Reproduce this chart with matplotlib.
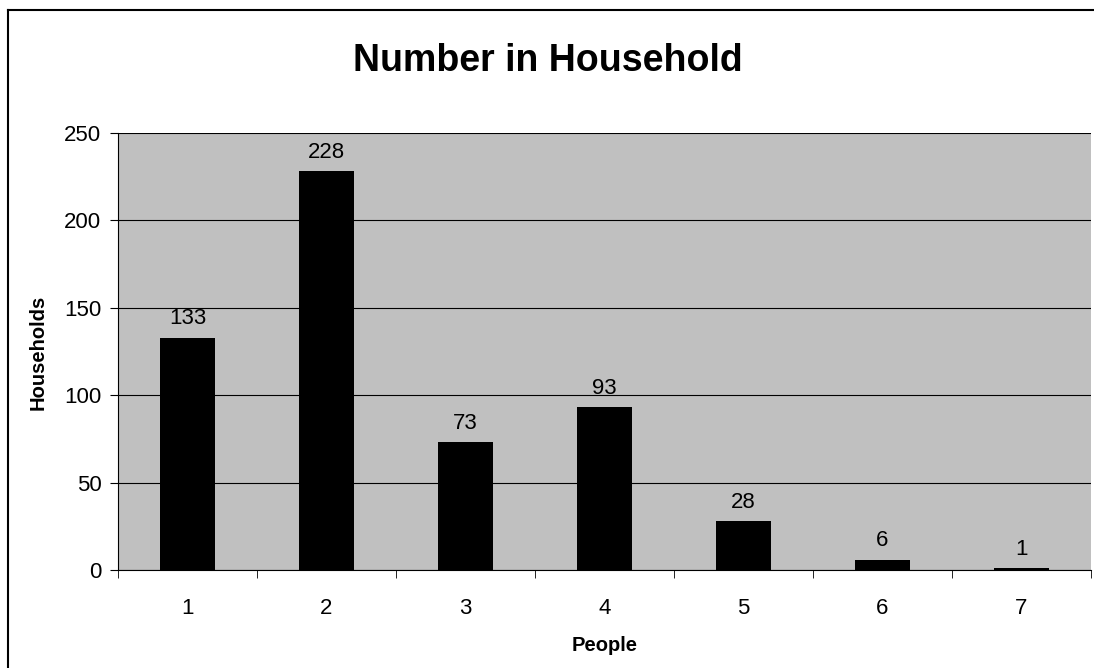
import numpy as np
import matplotlib.pyplot as plt
from matplotlib.lines import Line2D

plt.rcParams['font.family'] = ['Liberation Sans', 'DejaVu Sans']

people = ['1', '2', '3', '4', '5', '6', '7']
households = [133, 228, 73, 93, 28, 6, 1]

W, H = 1094, 668
fig = plt.figure(figsize=(W / 100, H / 100), dpi=100)
ax = fig.add_axes([118 / W, (H - 570) / H, 973 / W, 437 / H])
ax.set_facecolor('#C0C0C0')

x = np.arange(1, len(people) + 1)
ax.bar(x, households, width=0.40, color='black', zorder=3)
for xi, v in zip(x, households):
    ax.annotate(str(v), (xi, v), xytext=(0, 9.5), textcoords='offset points',
                ha='center', va='baseline', fontsize=16)

ax.set_xlim(0.5, 7.5)
ax.set_ylim(0, 250)
ax.set_yticks(np.arange(0, 251, 50))
ax.yaxis.grid(True, color='black', linewidth=0.8, zorder=1)
ax.set_xticks(x)
ax.set_xticklabels(people, fontsize=16)
ax.set_xticks(np.arange(0.5, 7.6, 1), minor=True)
ax.tick_params(axis='x', which='major', length=0, pad=20)
ax.tick_params(axis='x', which='minor', length=5.5, direction='out')
ax.tick_params(axis='y', labelsize=16, length=5.5, pad=6.5, direction='out')
for s in ['top', 'right']:
    ax.spines[s].set_visible(False)

fig.text(0.501, 1 - 70.7 / H, 'Number in Household', ha='center', va='baseline',
         fontsize=27, fontweight='bold')
fig.text((118 + 973 / 2) / W, 1 - 651 / H, 'People', ha='center', va='baseline',
         fontsize=14.5, fontweight='bold')
fig.text(38 / W, 1 - 352 / H, 'Households', ha='center', va='center', rotation=90,
         fontsize=14.5, fontweight='bold')

# chart border (only top and left edges show in the picture)
fig.add_artist(Line2D([8 / W, 1], [1 - 10 / H, 1 - 10 / H], transform=fig.transFigure,
                      color='black', linewidth=1.5))
fig.add_artist(Line2D([8 / W, 8 / W], [0, 1 - 10 / H], transform=fig.transFigure,
                      color='black', linewidth=1.5))

fig.savefig('out.png', dpi=100)
